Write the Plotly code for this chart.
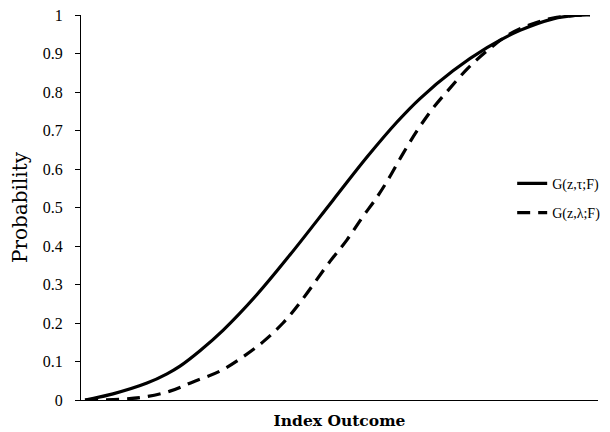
import plotly.graph_objects as go

# Index outcome positions (arbitrary units) and probabilities
x_tau = [0, 28, 62, 82, 95, 115, 138, 172, 205, 248, 282, 312, 335, 368, 402, 435, 468, 490, 505]
y_tau = [0, 0.016, 0.044, 0.068, 0.088, 0.128, 0.181, 0.274, 0.377, 0.519, 0.631, 0.722, 0.783, 0.855, 0.915, 0.960, 0.990, 0.999, 1.0]

x_lam = [0, 35, 60, 85, 108, 135, 158, 178, 198, 215, 245, 262, 277, 292, 303, 318, 333, 348, 365, 383, 403, 423, 445, 468, 490, 505]
y_lam = [0, 0.002, 0.008, 0.023, 0.047, 0.075, 0.112, 0.151, 0.2, 0.253, 0.36, 0.416, 0.473, 0.527, 0.572, 0.640, 0.703, 0.758, 0.81, 0.862, 0.909, 0.948, 0.975, 0.992, 0.999, 1.0]

y_ticks = [0, 0.1, 0.2, 0.3, 0.4, 0.5, 0.6, 0.7, 0.8, 0.9, 1]
y_tick_text = ["0", "0.1", "0.2", "0.3", "0.4", "0.5", "0.6", "0.7", "0.8", "0.9", "1"]

serif = "Liberation Serif"
wide_serif = "DejaVu Serif"

fig = go.Figure()
fig.add_trace(go.Scatter(x=x_tau, y=y_tau, mode="lines", name="G(z,τ;F)", legendgroup="a",
                         line=dict(color="black", width=3.2, shape="spline")))
fig.add_trace(go.Scatter(x=x_lam, y=y_lam, mode="lines", name="G(z,λ;F)", legendgroup="b",
                         line=dict(color="black", width=3.2, shape="spline", dash="13px,8px")))

fig.update_layout(
    width=610, height=432,
    paper_bgcolor="white", plot_bgcolor="white",
    margin=dict(l=73, r=20, t=7, b=40, autoexpand=False),
    font=dict(family=serif, color="black"),
    showlegend=True,
    legend=dict(x=0.834, y=0.603, xanchor="left", yanchor="top",
                font=dict(family=serif, size=14, color="black"),
                itemwidth=30, tracegroupgap=8, bgcolor="rgba(0,0,0,0)"),
    xaxis=dict(range=[-4, 513], showticklabels=False, ticks="", showgrid=False,
               zeroline=False, showline=True, linecolor="black", linewidth=1, automargin=False,
               title=dict(text="<b>Index Outcome</b>", font=dict(family=wide_serif, size=15.5), standoff=15)),
    yaxis=dict(range=[0, 1], tickvals=y_ticks, ticktext=y_tick_text, ticks="outside",
               ticklen=5, tickcolor="black", showgrid=False, zeroline=False, automargin=False,
               showline=True, linecolor="black", linewidth=1, ticklabeloverflow="allow",
               tickfont=dict(family=serif, size=16), ticklabelstandoff=9,
               title=dict(text="Probability", font=dict(family=wide_serif, size=20), standoff=15)),
)

fig.write_html("out.html")
